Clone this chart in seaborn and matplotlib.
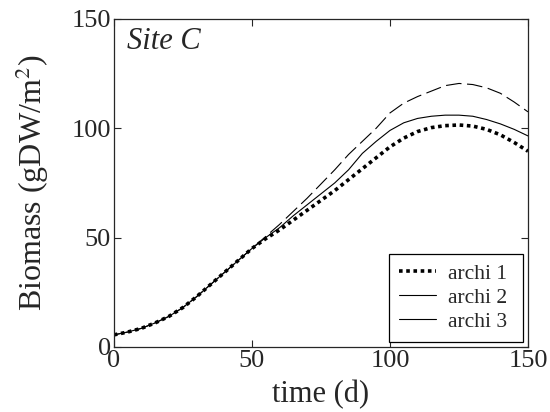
import numpy as np
import pandas as pd
import matplotlib
matplotlib.use("Agg")
import matplotlib.pyplot as plt
from matplotlib.lines import Line2D
import seaborn as sns

# values
time = [0, 5, 10, 15, 20, 25, 30, 35, 40, 45, 50, 55, 60, 65, 70, 75, 80,
        85, 90, 95, 100, 105, 110, 115, 120, 125, 130, 135, 140, 145, 150]
archi1 = [5.5, 6.8, 8.5, 11, 14, 18, 23, 28.5, 34, 39.5, 45, 49.5, 53.5, 58,
          62.5, 67, 71.5, 76.5, 81.5, 86.5, 91.5, 95.5, 98.5, 100.3, 101.2,
          101.5, 101, 99.5, 97, 93.5, 89.5]
archi2 = [5.5, 6.8, 8.5, 11, 14, 18, 23, 28.5, 34, 39.5, 45, 50, 54.5, 60,
          65, 70, 75, 81, 88.5, 94, 99, 102.5, 104.5, 105.5, 106, 106, 105.5,
          104, 102, 99.5, 96.5]
archi3 = [5.5, 6.8, 8.5, 11, 14, 18, 23, 28.5, 34, 39.5, 45, 50.5, 56, 62,
          68, 74.5, 81, 88, 94, 100, 107, 111.5, 114.5, 117, 119.5, 120.5,
          120, 118.5, 116, 112, 107.5]
series = ["archi 1", "archi 2", "archi 3"]

df = pd.DataFrame({"time": time * 3,
                   "biomass": archi1 + archi2 + archi3,
                   "archi": np.repeat(series, len(time))})

sns.set_style("ticks")
plt.rcParams['font.family'] = ['Liberation Serif', 'DejaVu Serif']
plt.rcParams['mathtext.fontset'] = 'stix'

fig = plt.figure(figsize=(5.5, 4.12), dpi=100)
ax = fig.add_axes([0.207, 0.158, 0.753, 0.796])

sns.lineplot(data=df, x="time", y="biomass", hue="archi", style="archi",
             palette=["black"] * 3,
             dashes={"archi 1": (1, 1), "archi 2": "", "archi 3": (14, 5)},
             legend=False, ax=ax)
lines = ax.get_lines()
lines[0].set_linewidth(2.6)
lines[1].set_linewidth(0.8)
lines[2].set_linewidth(0.8)

# legend (archi 3 shown solid, as in the original)
handles = [Line2D([], [], color="black", lw=2.6, ls=(0, (1, 1))),
           Line2D([], [], color="black", lw=0.8),
           Line2D([], [], color="black", lw=0.8)]
leg = ax.legend(handles, [s + " " for s in series], loc="lower right",
                fontsize=15.5, frameon=True, fancybox=False, framealpha=1,
                edgecolor="black", handlelength=1.7, handletextpad=0.6,
                borderaxespad=0.25, borderpad=0.45, labelspacing=0.18)
leg.get_frame().set_linewidth(0.9)

ax.set_xlim(0, 150)
ax.set_ylim(0, 150)
ax.set_xticks([0, 50, 100, 150])
ax.set_yticks([0, 50, 100, 150])
ax.tick_params(direction="in", top=True, right=True, labelsize=19,
               length=5, width=0.8, pad=2)
for s in ax.spines.values():
    s.set_linewidth(0.9)
ax.set_xlabel("time (d)", fontsize=22, labelpad=6)
ax.set_ylabel("Biomass (gDW/m$^2$)", fontsize=23, labelpad=15)
ax.text(0.032, 0.975, "Site C", transform=ax.transAxes, fontsize=22,
        style="italic", va="top", ha="left")

fig.savefig("out.png", dpi=100)
